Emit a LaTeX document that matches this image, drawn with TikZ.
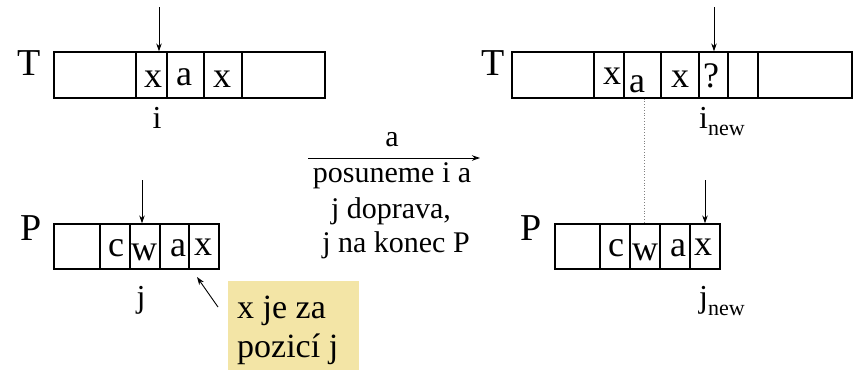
\documentclass[tikz,border=0pt]{standalone}
\usepackage{fontspec}
\setmainfont{Liberation Serif}
\usetikzlibrary{arrows.meta}
\definecolor{noteyellow}{HTML}{F3E5A6}
\begin{document}
\begin{tikzpicture}[x=1pt,y=-1pt,
  cell/.style={draw=black,line width=1.3pt,inner sep=0pt,minimum height=46pt},
  lett/.style={anchor=base,inner sep=0pt,font=\fontsize{36}{36}\selectfont},
  big/.style={anchor=base,inner sep=0pt,font=\fontsize{38}{38}\selectfont},
  lab/.style={anchor=base,inner sep=0pt,font=\fontsize{32}{32}\selectfont},
  mid/.style={anchor=base,inner sep=0pt,font=\fontsize{30}{30}\selectfont},
  note/.style={anchor=base west,inner sep=0pt,font=\fontsize{34}{34}\selectfont},
  ptr/.style={line width=0.9pt,-{Stealth[length=8pt,width=5.5pt]}}]
\useasboundingbox (0,0) rectangle (863,370);
% ---------- left T ----------
\node[big] (TL) at (29,75) {T};
\node[cell,minimum width=82pt] (tl1) at (95,75) {};
\node[cell,minimum width=31pt] (tl2) at (151.5,75) {};
\node[cell,minimum width=37pt] (tl3) at (185.5,75) {};
\node[cell,minimum width=38pt] (tl4) at (223,75) {};
\node[cell,minimum width=83pt] (tl5) at (283.5,75) {};
\node[lett] at (153,87) {x};
\node[lett] at (184,85) {a};
\node[lett] at (222,87) {x};
\coordinate (ai) at (159,7);
\draw[ptr] (ai) -- (tl2.north -| ai);
\node[lab] (il) at (157,128) {i};
% ---------- right T ----------
\node[big] (TR) at (493,75) {T};
\node[cell,minimum width=82pt] (tr1) at (553,75) {};
\node[cell,minimum width=30pt] (tr2) at (609,75) {};
\node[cell,minimum width=37pt] (tr3) at (642.5,75) {};
\node[cell,minimum width=38pt] (tr4) at (680,75) {};
\node[cell,minimum width=29pt] (tr5) at (713.5,75) {};
\node[cell,minimum width=30pt] (tr6) at (743,75) {};
\node[cell,minimum width=94pt] (tr7) at (805,75) {};
\node[lett] at (612,84) {x};
\node[lett] at (637,92) {a};
\node[lett] at (680,87) {x};
\node[lett] at (711,87) {?};
\coordinate (ainew) at (714,7);
\draw[ptr] (ainew) -- (tr5.north -| ainew);
\node[lab] (inew) at (722,128) {i\raisebox{-7pt}{\fontsize{22}{22}\selectfont new}};
% ---------- left P ----------
\node[big] (PL) at (31,240) {P};
\node[cell,minimum width=46pt,minimum height=45pt] (pl1) at (77,246.5) {};
\node[cell,minimum width=30pt,minimum height=45pt] (pl2) at (115,246.5) {};
\node[cell,minimum width=30pt,minimum height=45pt] (pl3) at (145,246.5) {};
\node[cell,minimum width=29pt,minimum height=45pt] (pl4) at (174.5,246.5) {};
\node[cell,minimum width=30pt,minimum height=45pt] (pl5) at (204,246.5) {};
\node[lett] at (116,256) {c};
\node[lett] at (144,260) {w};
\node[lett] at (178,256) {a};
\node[lett] at (203,255) {x};
\coordinate (aj) at (142,180);
\draw[ptr] (aj) -- (pl3.north -| aj);
\node[lab] (jl) at (141,307) {j};
% ---------- note ----------
\fill[noteyellow] (228,281) rectangle (359,370);
\node[note] (n1) at (237,318) {x je za};
\node[note] (n2) at (237,357) {pozicí j};
\coordinate (pt) at (218,307);
\draw[ptr] (pt) -- (197,277);
% ---------- middle ----------
\coordinate (ma) at (308,158);
\coordinate (mb) at (480,158);
\draw[line width=0.9pt,-{Stealth[length=8pt,width=5.5pt]}] (ma) -- (mb);
\node[mid] (m0) at (392,146) {a};
\node[mid] (m1) at (392,182) {posuneme i a};
\node[mid] (m2) at (391,218) {j doprava,};
\node[mid] (m3) at (396,252) {j na konec P};
% ---------- right P ----------
\node[big] (PR) at (531,240) {P};
\node[cell,minimum width=45pt,minimum height=45pt] (pr1) at (577.5,246.5) {};
\node[cell,minimum width=30pt,minimum height=45pt] (pr2) at (615,246.5) {};
\node[cell,minimum width=30pt,minimum height=45pt] (pr3) at (645,246.5) {};
\node[cell,minimum width=30pt,minimum height=45pt] (pr4) at (675,246.5) {};
\node[cell,minimum width=30pt,minimum height=45pt] (pr5) at (705,246.5) {};
\node[lett] at (616,256) {c};
\node[lett] at (645,260) {w};
\node[lett] at (678,256) {a};
\node[lett] at (703,255) {x};
\coordinate (ajnew) at (705,180);
\draw[ptr] (ajnew) -- (pr5.north -| ajnew);
\node[lab] (jnew) at (722,307) {j\raisebox{-8pt}{\fontsize{22}{22}\selectfont new}};
% ---------- dotted alignment ----------
\coordinate (dx) at (644,0);
\draw[gray,line width=0.8pt,dotted] (tr3.south -| dx) -- (pr3.north -| dx);
\end{tikzpicture}
\end{document}
